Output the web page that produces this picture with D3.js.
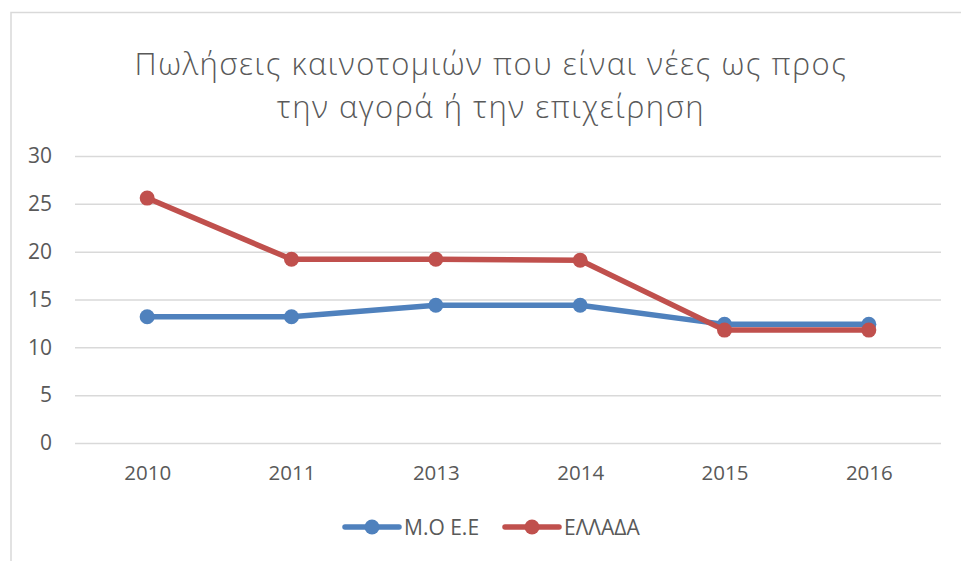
<!DOCTYPE html>
<html><head><meta charset="utf-8">
<script src="https://cdn.jsdelivr.net/npm/d3@7"></script>
<style>
html,body{margin:0;padding:0;background:#fff;}
svg{display:block;}
text{font-family:"Open Sans",sans-serif;fill:#595959;}
</style></head><body>
<svg id="c" width="961" height="561"></svg>
<script>
const categories = ["2010","2011","2013","2014","2015","2016"];
const seriesMOEE = [13.2, 13.2, 14.4, 14.4, 12.4, 12.4];
const seriesEllada = [25.6, 19.2, 19.2, 19.1, 11.8, 11.8];
const seriesNames = ["Μ.Ο Ε.Ε", "ΕΛΛΑΔΑ"];
const yTicks = [0, 5, 10, 15, 20, 25, 30];
const titleLines = ["Πωλήσεις καινοτομιών που είναι νέες ως προς", "την αγορά ή την επιχείρηση"];
const colors = ["#4f81bd", "#c0504d"];

const svg = d3.select("#c");
// chart border
svg.append("path").attr("d","M11,561 V12.5 H961").attr("fill","none").attr("stroke","#d9d9d9").attr("stroke-width",1.5);

const x = d3.scalePoint().domain(categories).range([75, 941]).padding(0.5);
const y = d3.scaleLinear().domain([0, 30]).range([443, 156]);

// title
svg.append("g").selectAll("text").data(titleLines).join("text")
  .attr("x", 491).attr("y", (d,i)=> 75 + i*43)
  .attr("text-anchor","middle").attr("font-size", 31).attr("font-weight",300)
  .attr("letter-spacing", 1.5)
  .text(d=>d);

// gridlines
const yAxis = d3.axisLeft(y).tickValues(yTicks).tickSize(-(941-75)).tickPadding(23);
const gy = svg.append("g").attr("transform","translate(75,0)").call(yAxis);
gy.select(".domain").remove();
gy.selectAll(".tick line").attr("stroke","#d9d9d9").attr("stroke-width",1.5);
gy.selectAll(".tick text").attr("font-size",21).attr("fill","#595959").attr("font-family","Open Sans");

const xAxis = d3.axisBottom(x).tickSize(0).tickPadding(22);
const gx = svg.append("g").attr("transform","translate(0,443)").call(xAxis);
gx.select(".domain").remove();
gx.selectAll(".tick text").attr("font-size",20.5).attr("fill","#595959").attr("font-family","Open Sans");

const series = [seriesMOEE, seriesEllada];
const line = d3.line().x((d,i)=>x(categories[i])).y(d=>y(d));
series.forEach((s, k) => {
  const g = svg.append("g");
  g.append("path").datum(s).attr("d", line).attr("fill","none")
    .attr("stroke", colors[k]).attr("stroke-width", 5.5).attr("stroke-linejoin","round").attr("stroke-linecap","round");
  g.selectAll("circle").data(s).join("circle")
    .attr("cx",(d,i)=>x(categories[i])).attr("cy",d=>y(d)).attr("r",7.5).attr("fill",colors[k]);
});

// legend
const legendX = [345, 505];
seriesNames.forEach((n,k)=>{
  const g = svg.append("g").attr("transform",`translate(${legendX[k]},527)`);
  g.append("line").attr("x1",0).attr("x2",54).attr("stroke",colors[k]).attr("stroke-width",5.5).attr("stroke-linecap","round");
  g.append("circle").attr("cx",27).attr("r",7.5).attr("fill",colors[k]);
  g.append("text").attr("x",59).attr("y",8).attr("font-size",21).text(n);
});
</script></body></html>
